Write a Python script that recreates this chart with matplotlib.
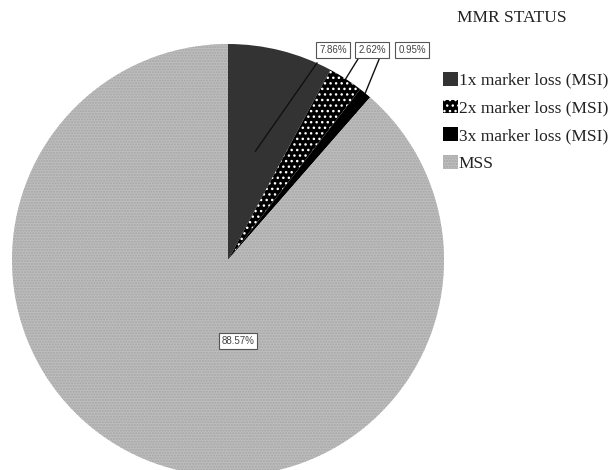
import matplotlib
matplotlib.use("Agg")
import matplotlib.pyplot as plt
import numpy as np
from matplotlib.patches import Patch

categories = ["1x marker loss (MSI)", "2x marker loss (MSI)", "3x marker loss (MSI)", "MSS"]
values = [7.86, 2.62, 0.95, 88.57]
value_labels = ["7.86%", "2.62%", "0.95%", "88.57%"]

W, H = 609, 470
fig = plt.figure(figsize=(W / 100, H / 100), dpi=100)
ax = fig.add_axes([0, 0, 1, 1])

plt.rcParams["hatch.linewidth"] = 1.0

cx, cy, r = 228, 210, 216
faces = ["#333333", "#000000", "#000000", "#bdbdbd"]
edges = ["#333333", "#ffffff", "#000000", "#a6a6a6"]
hatches = [None, "...", None, "......"]

wedges, _ = ax.pie(values, startangle=90, counterclock=False, center=(cx, cy),
                   radius=r, frame=True, wedgeprops=dict(linewidth=0))
for w, fc, ec, h in zip(wedges, faces, edges, hatches):
    w.set_facecolor(fc)
    w.set_edgecolor(ec)
    if h:
        w.set_hatch(h)

ax.set_xlim(0, W)
ax.set_ylim(0, H)
ax.set_aspect("equal")
ax.axis("off")

box = dict(boxstyle="square,pad=0.3", fc="white", ec="#555555", lw=0.8)
label_font = dict(family="Liberation Sans", fontsize=7, color="#444444")

# leader anchor: fraction of radius along wedge mid-angle
anchor_frac = [0.52, 1.0, 1.0]
label_pos = [(333, 420), (372, 420), (412, 420)]
line_start = [(317, 407), (358, 411), (380, 413)]
for i in range(3):
    w = wedges[i]
    mid = np.deg2rad((w.theta1 + w.theta2) / 2)
    px = cx + r * anchor_frac[i] * np.cos(mid)
    py = cy + r * anchor_frac[i] * np.sin(mid)
    ax.plot([line_start[i][0], px], [line_start[i][1], py], color="#111111", lw=1.0)
    ax.text(*label_pos[i], value_labels[i], ha="center", va="center", bbox=box, **label_font)

ax.text(238, 129, value_labels[3], ha="center", va="center", bbox=box, **label_font)

# legend
fig.text(512 / W, 1 - 18 / H, "MMR STATUS", family="Liberation Serif", fontsize=12.5,
         ha="center", va="center", color="#222222")
handles = [Patch(facecolor=fc, edgecolor=ec, hatch=h, linewidth=0)
           for fc, ec, h in zip(faces, edges, hatches)]
leg = fig.legend(handles, categories, loc="upper left", bbox_to_anchor=(436 / W, 1 - 65 / H),
                 frameon=False, prop=dict(family="Liberation Serif", size=12.5),
                 handlelength=0.85, handleheight=0.85, handletextpad=0.05,
                 labelspacing=0.62, borderaxespad=0, labelcolor="#222222")

fig.savefig("out.png", dpi=100)
